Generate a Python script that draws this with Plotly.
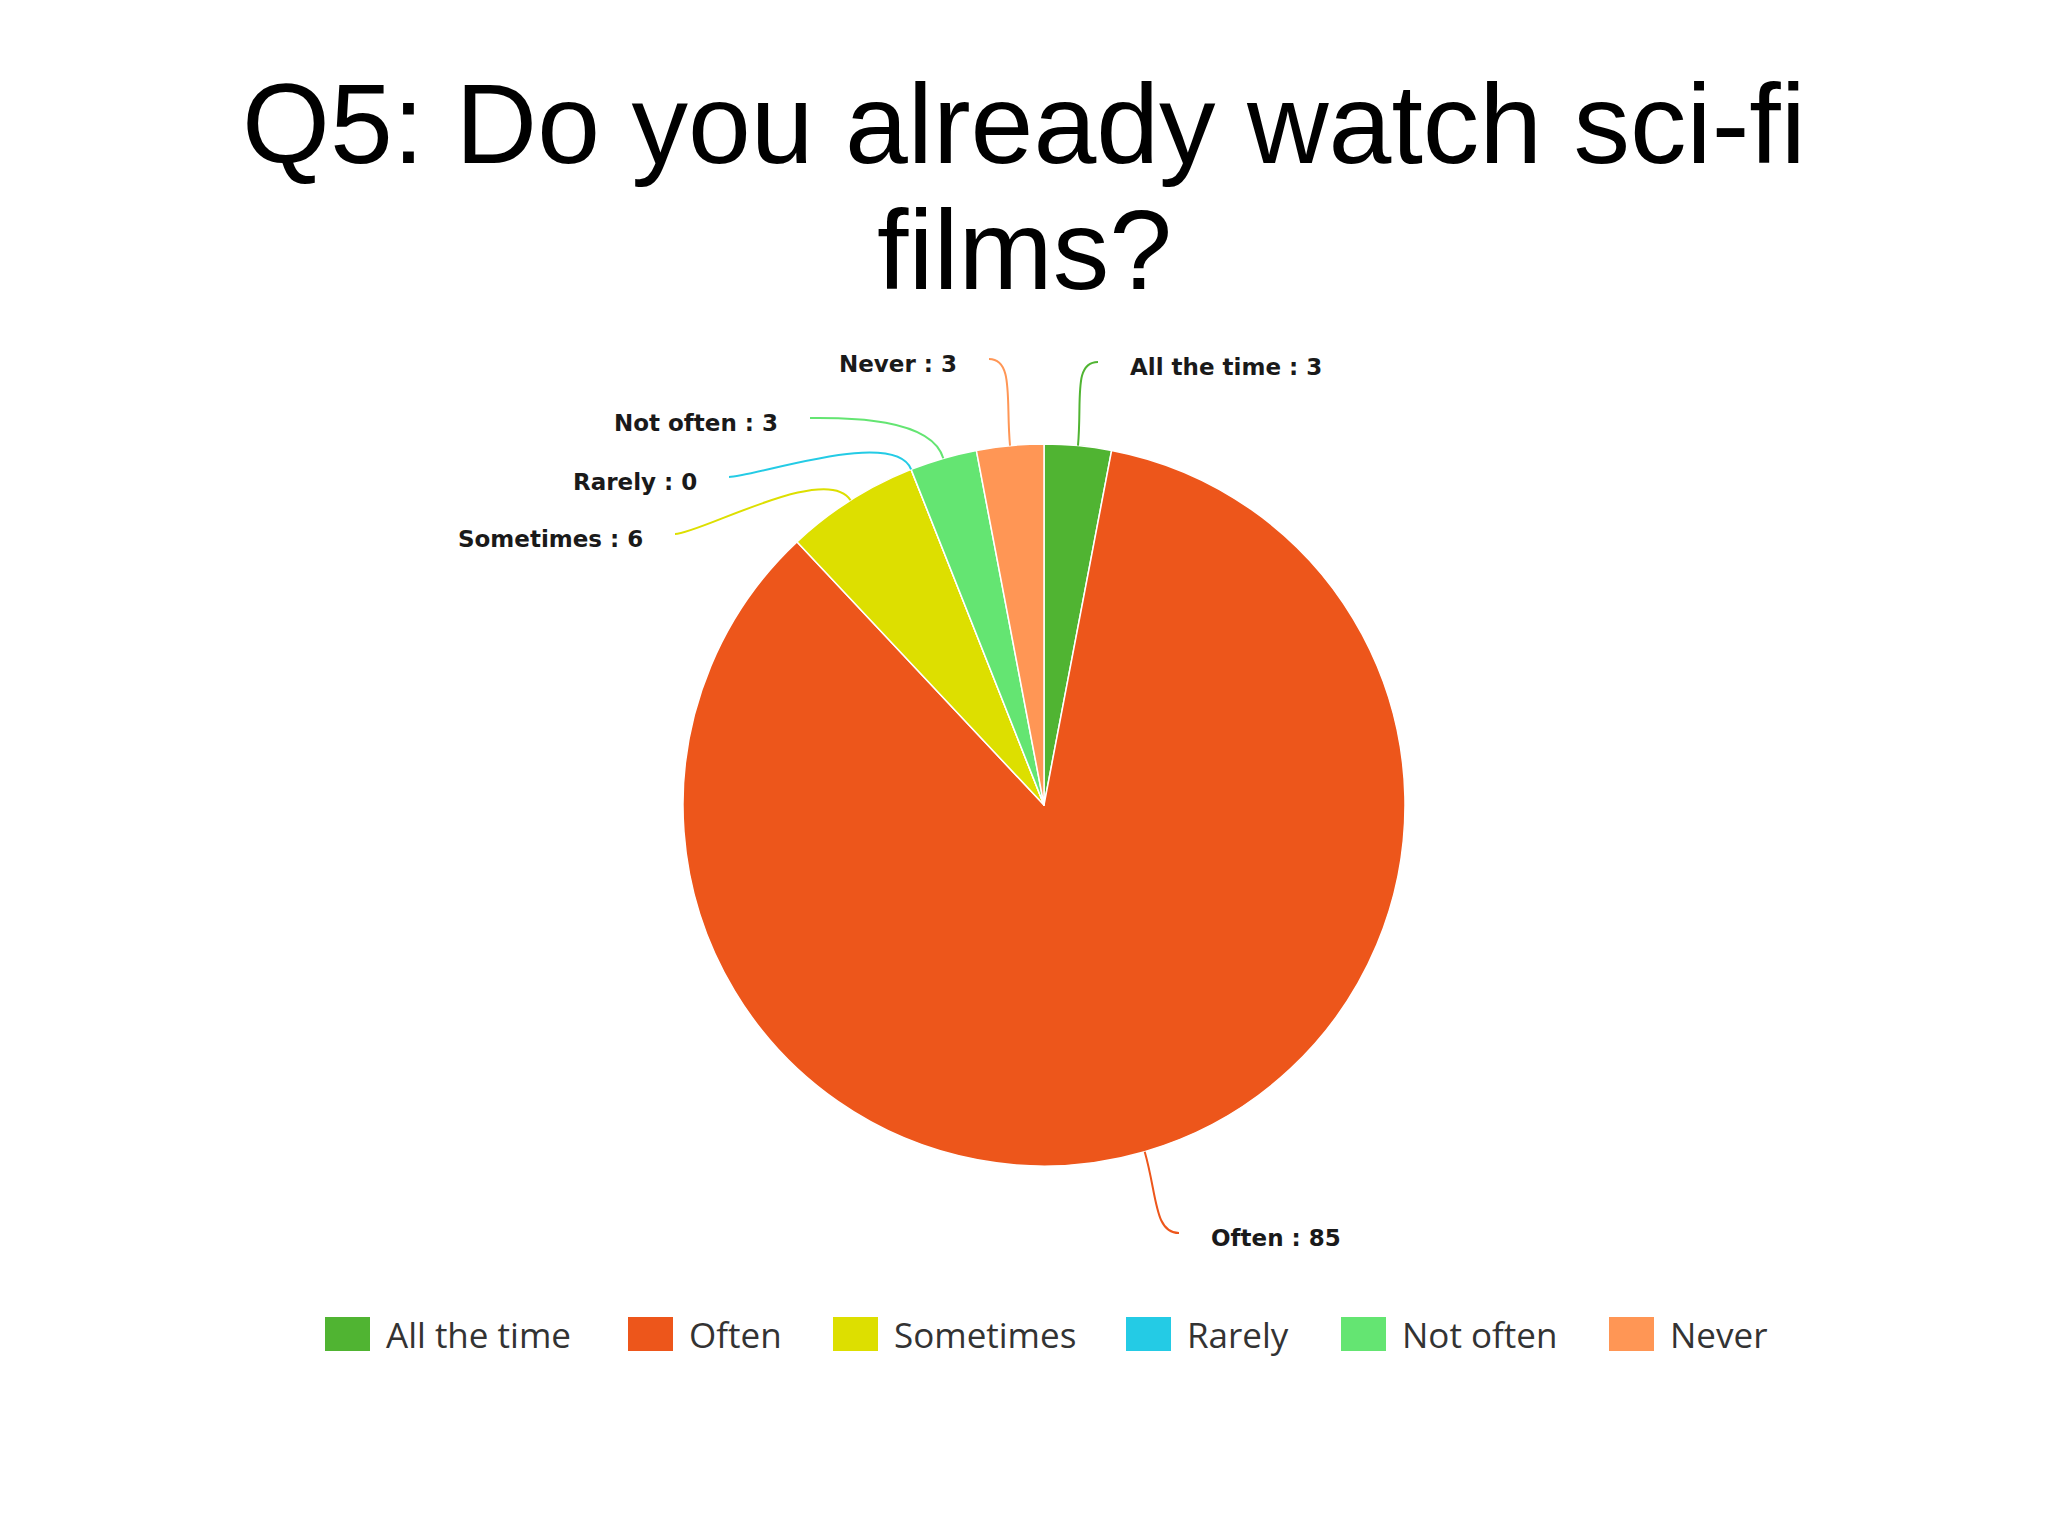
import math
import plotly.graph_objects as go

# ---------------- data ----------------
categories = ["All the time", "Often", "Sometimes", "Rarely", "Not often", "Never"]
values = [3, 85, 6, 0, 3, 3]
colors = ["#50B432", "#ED561B", "#DDDF00", "#24CBE5", "#64E572", "#FF9655"]
title_lines = ["Q5: Do you already watch sci-fi", "films?"]

# ---------------- layout constants (pixels, page coords) ----------------
W, H = 2048, 1535
OFF = 8  # page body margin
CX, CY, R = 1044, 805, 361

# data-label anchors: (x, y, anchor side)
label_pos = {
    "All the time": (1128, 367, "left"),
    "Often": (1209, 1238, "left"),
    "Sometimes": (645, 539, "right"),
    "Rarely": (699, 482, "right"),
    "Not often": (780, 423, "right"),
    "Never": (959, 364, "right"),
}
legend_x = [325, 628, 833, 1126, 1341, 1609]
legend_y = 1334


def px(x, y):
    return (x - OFF) / W, 1 - (y - OFF) / H


fig = go.Figure()
dx0, dy1 = px(CX - R, CY - R)
dx1, dy0 = px(CX + R, CY + R)
fig.add_trace(go.Pie(
    labels=categories, values=values,
    marker=dict(colors=colors, line=dict(color="white", width=1.5)),
    sort=False, direction="clockwise", rotation=0,
    textinfo="none", showlegend=False,
    domain=dict(x=[dx0, dx1], y=[dy0, dy1]),
))

annotations = []
shapes = []

# title
for line, yc in zip(title_lines, [124, 250]):
    annotations.append(dict(
        text=line, x=px(1024, yc)[0], y=px(1024, yc)[1], xref="paper", yref="paper",
        xanchor="center", yanchor="middle", showarrow=False,
        font=dict(family="Liberation Sans, Arial", size=113, color="#000000"),
    ))

# data labels with curved connectors
total = sum(values)
cum = 0
for cat, val, col in zip(categories, values, colors):
    mid = (cum + val / 2) / total
    cum += val
    th = 2 * math.pi * mid
    dx, dy = math.sin(th), -math.cos(th)
    ex, ey = CX + R * dx, CY + R * dy
    lx, ly, side = label_pos[cat]
    sgn = -1 if side == "left" else 1
    endx, endy = lx + sgn * 30, ly - 5
    p1x, p1y = ex + dx * 45, ey + dy * 45
    p2x, p2y = endx + sgn * 25, endy
    pts = [px(ex, ey), px(p1x, p1y), px(p2x, p2y), px(endx, endy)]
    path = "M {} {} C {} {}, {} {}, {} {}".format(*[c for p in pts for c in p])
    shapes.append(dict(type="path", path=path, xref="paper", yref="paper",
                       line=dict(color=col, width=2)))
    ax, ay = px(lx, ly)
    annotations.append(dict(
        text=f"{cat} : {val}", x=ax, y=ay, xref="paper", yref="paper",
        xanchor=side, yanchor="middle", showarrow=False,
        font=dict(family="DejaVu Sans", size=23, color="#1a1a1a", weight="bold"),
    ))

# custom legend
for cat, col, x0 in zip(categories, colors, legend_x):
    x1 = x0 + 45
    ax0, ay0 = px(x0, legend_y + 17)
    ax1, ay1 = px(x1, legend_y - 17)
    shapes.append(dict(type="rect", xref="paper", yref="paper",
                       x0=ax0, x1=ax1, y0=ay0, y1=ay1,
                       fillcolor=col, line=dict(width=0)))
    tx, ty = px(x1 + 14, legend_y)
    annotations.append(dict(
        text=cat, x=tx, y=ty, xref="paper", yref="paper",
        xanchor="left", yanchor="middle", showarrow=False,
        font=dict(family="Open Sans", size=35, color="#333333"),
    ))

fig.update_layout(
    width=W, height=H, margin=dict(l=0, r=0, t=0, b=0),
    paper_bgcolor="white", plot_bgcolor="white",
    annotations=annotations, shapes=shapes, showlegend=False,
)

fig.write_html("out.html")
